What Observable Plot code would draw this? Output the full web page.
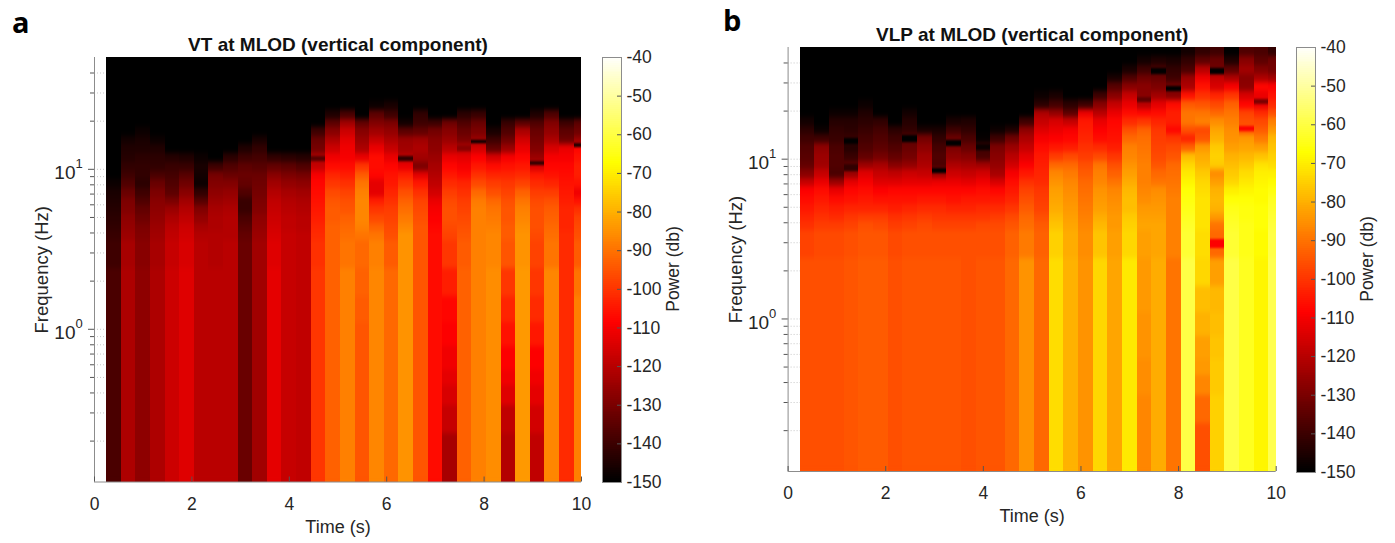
<!DOCTYPE html>
<html><head><meta charset="utf-8">
<script src="https://cdn.jsdelivr.net/npm/d3@7"></script>
<script src="https://cdn.jsdelivr.net/npm/@observablehq/plot@0.6"></script>
<style>
html,body{margin:0;padding:0;background:#fff;overflow:hidden}
#page{position:relative;width:1395px;height:543px;font-family:"Liberation Sans",sans-serif;color:#262626}
#page svg{position:absolute;background:transparent;overflow:visible}
.tag{position:absolute;font:700 29px "Open Sans",sans-serif;color:#000;line-height:1}
</style></head><body><div id="page"></div>
<script>
const timeEdges=[0.25,0.55,0.85,1.15,1.45,1.75,2.05,2.35,2.65,2.95,3.25,3.55,3.85,4.15,4.45,4.75,5.05,5.35,5.65,5.95,6.25,6.55,6.85,7.15,7.45,7.75,8.05,8.35,8.65,8.95,9.25,9.55,9.85,10];
const freqEdges=[0.111,0.222,0.333,0.444,0.556,0.778,1.1,1.6,2.4,3.6,4.1,4.6,5.2,5.9,6.7,7.6,8.6,9.7,11,12.5,14.2,16.1,18.2,20.6,23.4,26.5,30,34,38.5,43.7,50];
const floorDb=-150;
const L=v=>[v,v,v,v,v,v,v,v]; // the eight lowest rows read as one flat band

const vtColumns=[
[...L(-138),-140,-141,-142,-143,-144,-145,-146,-148],
[...L(-122),-123,-125,-126,-127,-129,-130,-133,-137,-140,-142,-144,-145,-147],
[...L(-127),-128,-129,-130,-132,-134,-137,-140,-143,-142,-142,-143,-145,-146,-148],
[...L(-122),-123,-124,-125,-126,-127,-128,-130,-133,-138,-142,-143,-145,-148],
[...L(-117),-118,-119,-120,-122,-125,-130,-135,-137,-139,-141,-144],
[...L(-114),-115,-116,-117,-119,-121,-124,-128,-132,-136,-141,-145],
[...L(-120),-120,-121,-123,-126,-129,-136,-142,-148,-147,-146,-148],
[...L(-120),-121,-121,-122,-122,-123,-125,-127,-129,-131,-140],
[...L(-120),-120,-121,-121,-121,-122,-124,-126,-129,-133,-137,-143],
[...L(-133),-133,-134,-136,-138,-141,-141,-137,-134,-133,-135,-140,-145],
[...L(-124),-124,-125,-126,-127,-129,-130,-131,-132,-133,-136,-139,-142,-146],
[...L(-113),-114,-115,-116,-117,-118,-119,-121,-124,-128,-134,-142],
[...L(-118),-118,-118,-119,-119,-120,-121,-123,-126,-130,-135,-143],
[...L(-119),-119,-119,-120,-120,-121,-122,-124,-127,-131,-137,-144],
[...L(-100),-101,-102,-103,-104,-105,-106,-107,-108,-110,-118,-122,-131,-133,-140],
[...L(-93),-93,-93,-93,-94,-94,-95,-97,-100,-103,-107,-111,-117,-122,-128,-135,-145],
[...L(-88),-90,-91,-92,-93,-95,-96,-98,-101,-104,-107,-110,-111,-113,-117,-124,-138],
[-95,-95,-95,-95,-95,-95,-94,-93,-92,-90,-88,-87,-87,-87,-88,-90,-94,-100,-112,-122,-125,-128,-134],
[...L(-87),-88,-90,-93,-97,-100,-104,-113,-113,-108,-107,-107,-112,-118,-124,-129,-135,-148],
[...L(-92),-94,-96,-97,-98,-99,-101,-103,-105,-106,-108,-112,-118,-122,-126,-130,-140,-146],
[...L(-85),-85,-85,-87,-89,-91,-93,-96,-100,-104,-112,-120,-124,-125,-135,-147],
[...L(-95),-95,-95,-95,-96,-97,-98,-101,-105,-113,-130,-124,-122,-124,-134,-140,-142],
[...L(-107),-107,-107,-108,-109,-110,-112,-116,-119,-121,-123,-125,-127,-128,-131,-140],
[-123,-118,-115,-113,-111,-109,-108,-104,-100,-98,-97,-96,-96,-97,-99,-102,-105,-108,-112,-120,-125,-128,-132],
[...L(-93),-94,-95,-96,-97,-98,-99,-101,-103,-107,-110,-113,-120,-130,-133,-137,-143],
[...L(-88),-88,-88,-88,-88,-88,-89,-92,-97,-101,-105,-109,-116,-125,-130,-133,-141],
[...L(-86),-87,-87,-88,-89,-90,-92,-96,-99,-103,-107,-115,-134,-140,-146],
[-121,-119,-114,-111,-109,-106,-103,-100,-95,-94,-94,-95,-95,-96,-98,-100,-103,-106,-110,-125,-132,-137,-141],
[...L(-84),-85,-85,-86,-87,-88,-90,-93,-98,-102,-105,-108,-112,-116,-122,-135],
[-119,-116,-113,-111,-109,-105,-102,-100,-98,-97,-96,-96,-96,-97,-99,-102,-105,-115,-125,-129,-131,-133,-137,-145],
[...L(-87),-90,-91,-92,-93,-94,-96,-99,-103,-106,-108,-110,-115,-122,-126,-129,-137],
[...L(-102),-102,-102,-103,-103,-103,-104,-105,-106,-107,-108,-110,-112,-132,-135,-140],
[-88,-88,-88,-88,-88,-88,-88,-90,-94,-96,-97,-98,-101,-106,-111,-106,-104,-104,-106,-108,-125,-132,-135]
];
const vtThinColumn=[14,20,24,25,29,32];
const vtThinLow=[11.2,11.2,13,14.4,10.6,13.6];
const vtThinHigh=[12,12,14,15.2,11.2,14.4];
const vtThinDb=[-136,-142,-128,-150,-142,-145];

const vlpColumns=[
[...L(-96),-98,-101,-103,-105,-107,-109,-118,-128,-134,-136,-137,-140,-143,-147],
[...L(-96),-97,-99,-101,-103,-105,-107,-112,-118,-124,-125,-127,-140,-148],
[...L(-96),-97,-99,-102,-104,-107,-112,-125,-138,-137,-137,-138,-141,-142,-144,-148],
[...L(-95),-96,-98,-100,-103,-106,-108,-113,-125,-135,-141,-144,-141,-143,-144,-148],
[...L(-94),-95,-96,-99,-103,-105,-107,-110,-114,-125,-134,-137,-139,-141,-143,-145,-148],
[...L(-94),-95,-97,-99,-103,-106,-109,-114,-118,-123,-131,-135,-137,-139,-142],
[...L(-96),-97,-99,-101,-104,-106,-108,-114,-119,-128,-134,-137,-140,-143],
[...L(-95),-96,-98,-100,-103,-106,-108,-113,-117,-126,-131,-133,-136,-142,-144,-147],
[...L(-95),-96,-97,-99,-102,-105,-108,-113,-118,-122,-124,-127,-131,-146],
[...L(-95),-96,-98,-100,-102,-105,-108,-112,-125,-138,-137,-139,-142,-146],
[...L(-95),-96,-98,-100,-103,-106,-108,-112,-117,-122,-127,-130,-133,-140,-146],
[...L(-96),-96,-98,-100,-103,-105,-108,-113,-118,-123,-128,-133,-138,-142,-145],
[...L(-95),-96,-97,-100,-102,-105,-107,-111,-116,-124,-138,-140,-149],
[...L(-95),-96,-97,-99,-102,-105,-108,-115,-123,-126,-128,-130,-140,-148],
[...L(-92),-93,-95,-97,-100,-103,-105,-107,-110,-116,-120,-125,-132,-145],
[...L(-85),-89,-91,-92,-94,-96,-98,-101,-105,-109,-113,-118,-122,-127,-140],
[...L(-92),-93,-94,-96,-98,-99,-100,-102,-103,-104,-105,-107,-110,-114,-118,-122,-143,-148],
[...L(-73),-75,-77,-79,-81,-82,-83,-85,-87,-92,-99,-105,-109,-112,-115,-126,-139,-146],
[...L(-80),-81,-82,-83,-84,-85,-86,-87,-89,-92,-97,-104,-108,-110,-118,-135,-143],
[...L(-85),-86,-87,-88,-89,-90,-91,-92,-94,-96,-99,-101,-103,-104,-105,-112,-140],
[...L(-74),-77,-79,-81,-83,-84,-85,-87,-88,-90,-97,-102,-107,-109,-112,-120,-128,-140],
[...L(-82),-83,-84,-84,-85,-86,-87,-90,-93,-96,-100,-104,-106,-107,-108,-112,-118,-128,-136,-146],
[...L(-71),-74,-75,-76,-78,-78,-79,-81,-83,-85,-87,-88,-92,-96,-102,-107,-112,-118,-128,-137,-146],
[-87,-87,-86,-86,-85,-85,-84,-84,-83,-82,-83,-84,-86,-87,-88,-88,-88,-89,-90,-91,-93,-100,-108,-120,-128,-128,-132,-140,-147],
[...L(-81),-82,-82,-83,-84,-85,-86,-90,-92,-95,-97,-98,-99,-100,-103,-107,-113,-124,-130,-133,-138,-145],
[...L(-90),-88,-88,-88,-88,-88,-89,-90,-91,-92,-95,-97,-100,-108,-104,-104,-107,-128,-132,-140,-142,-146],
[...L(-60),-62,-63,-64,-65,-66,-67,-69,-71,-74,-78,-93,-103,-96,-90,-90,-94,-106,-122,-125,-138,-142,-147],
[-96,-92,-87,-84,-83,-80,-78,-74,-73,-72,-72,-72,-72,-73,-74,-76,-79,-81,-84,-95,-97,-88,-90,-95,-101,-106,-111,-120,-135,-142],
[-75,-75,-76,-76,-77,-78,-79,-83,-92,-90,-84,-80,-79,-80,-83,-86,-76,-75,-76,-80,-82,-86,-92,-97,-103,-115,-118,-132,-133,-140],
[...L(-60),-62,-63,-64,-65,-67,-70,-74,-76,-78,-80,-83,-85,-86,-88,-90,-93,-100,-110,-122,-135,-145],
[...L(-64),-65,-65,-66,-66,-67,-69,-71,-73,-76,-79,-82,-84,-95,-96,-98,-108,-115,-127,-128,-124,-128,-137],
[...L(-69),-68,-67,-67,-67,-68,-68,-69,-70,-72,-77,-83,-89,-94,-97,-102,-112,-112,-108,-122,-129,-135,-138],
[...L(-59),-60,-61,-62,-63,-64,-66,-68,-70,-73,-75,-77,-79,-84,-88,-96,-102,-106,-109,-124,-131,-132,-142]
];
const vlpThinColumn=[3,3,7,9,10,12,23,24,25,28,28,30,31];
const vlpThinLow=[12.3,8.4,12.8,8.1,12,11.3,22.5,34,26.7,2.75,34,14.9,22];
const vlpThinHigh=[13.5,9.2,14,8.8,13.1,12.4,24.5,37,28.6,3.15,37,16,23.5];
const vlpThinDb=[-150,-142,-150,-150,-150,-148,-135,-150,-150,-109,-150,-109,-130];

const colorbarTicks=[-150,-140,-130,-120,-110,-100,-90,-80,-70,-60,-50,-40];
const colorbarLevels=d3.range(-150,-40,0.5);
const timeTicks=[0,2,4,6,8,10];
const decadeTicks=[1,10];
const decadeExponents=["0","1"];
const minorFreqTicks=[0.2,0.3,0.4,0.5,0.6,0.7,0.8,0.9,2,3,4,5,6,7,8,9,20,30,40];

const hot={type:"linear",domain:[-150,-108.75,-67.5,-40],range:["#000000","#ff0000","#ffff00","#ffffff"],interpolate:"rgb"};
const ink="#262626", axisGrey="#8c8c8c";
const font='"Liberation Sans",sans-serif';

function cellsOf(columns){
  const out=[];
  columns.forEach((col,c)=>{
    for(let r=0;r<freqEdges.length-1;r++){
      out.push({t1:timeEdges[c],t2:timeEdges[c+1],f1:freqEdges[r],f2:freqEdges[r+1],db:col[r]??floorDb});
    }
  });
  return out;
}
function thinOf(cols,lows,highs,dbs){
  return cols.map((c,i)=>({t1:timeEdges[c],t2:timeEdges[c+1],f1:lows[i],f2:highs[i],db:dbs[i]}));
}
function panel(o){
  const h=543-o.top-o.bottom;
  const cells=cellsOf(o.columns);
  const rectOpts={x1:"t1",x2:"t2",y1:"f1",y2:"f2",fill:"db",shapeRendering:"crispEdges"};
  const svg=Plot.plot({
    width:o.width,height:543,marginLeft:o.left,marginRight:o.right,marginTop:o.top,marginBottom:o.bottom,
    style:{fontFamily:font,background:"transparent",overflow:"visible"},
    x:{domain:[0,10],axis:null},
    y:{type:"log",domain:[0.111,50],axis:null},
    color:hot,
    marks:[
      Plot.gridY(minorFreqTicks.concat(decadeTicks),{stroke:"#999",strokeOpacity:0.55,strokeDasharray:"1,2"}),
      Plot.rect(cells,rectOpts),
      Plot.rect(cells,{...rectOpts,clip:true}),
      Plot.rect(o.thin,{...rectOpts,clip:true}),
      Plot.ruleX([0],{stroke:axisGrey,strokeWidth:1}),
      Plot.ruleY([0.111],{stroke:axisGrey,strokeWidth:1}),
      Plot.axisY({ticks:minorFreqTicks,tickSize:4,tickFormat:()=>"",stroke:"#555",label:null}),
      Plot.axisY({ticks:decadeTicks,tickSize:6,tickFormat:()=>"",stroke:"#555",label:null}),
      Plot.tickX(timeTicks,{x:d=>d,insetTop:h-5,stroke:"#555"}),
      Plot.text(timeTicks,{x:d=>d,frameAnchor:"bottom",dy:22,lineAnchor:"middle",text:d=>String(d),fontSize:17.5,fill:ink}),
      Plot.text(decadeTicks,{y:d=>d,frameAnchor:"left",textAnchor:"end",dx:-19,dy:4,text:()=>"10",fontSize:19,fill:ink}),
      Plot.text(decadeTicks,{y:d=>d,frameAnchor:"left",textAnchor:"start",dx:-19,dy:-5,text:(d,i)=>decadeExponents[i],fontSize:13,fill:ink}),
      Plot.text(["Time (s)"],{frameAnchor:"bottom",dy:45,lineAnchor:"middle",fontSize:18,fill:ink}),
      Plot.text(["Frequency (Hz)"],{frameAnchor:"left",textAnchor:"middle",dx:-52,rotate:-90,fontSize:18.5,fill:ink}),
      Plot.text([o.title],{frameAnchor:"top",dy:-13,lineAnchor:"middle",fontSize:19,fontWeight:"bold",fill:"#111"})
    ]
  });
  // the upper copies of the cells are softened along frequency, as the reference image is
  const id="soft"+o.title.slice(0,2);
  const defs=document.createElementNS("http://www.w3.org/2000/svg","defs");
  defs.innerHTML=`<filter id="${id}" color-interpolation-filters="sRGB"><feGaussianBlur stdDeviation="0.5 2.6"/></filter>`+
    `<filter id="${id}t" x="-10%" y="-100%" width="120%" height="300%" color-interpolation-filters="sRGB"><feGaussianBlur stdDeviation="0.5 0.9"/></filter>`;
  svg.prepend(defs);
  const groups=svg.querySelectorAll('g[aria-label="rect"]');
  const inner=g=>g.querySelector("g")||g;
  groups[1].querySelectorAll("rect").length;
  wrapFilter(groups[1],id);
  wrapFilter(groups[2],id+"t");
  return svg;
}
function wrapFilter(group,id){
  // keep the frame clip on the outer group and the blur on a group inside it
  const g=document.createElementNS("http://www.w3.org/2000/svg","g");
  g.setAttribute("filter",`url(#${id})`);
  while(group.firstChild) g.append(group.firstChild);
  group.append(g);
}
function colorbar(o){
  const s=Plot.plot({
    width:110,height:o.height+20,marginLeft:1,marginRight:90,marginTop:10,marginBottom:10,
    style:{fontFamily:font,background:"transparent",overflow:"visible"},
    x:{domain:[0,1],axis:null},
    y:{domain:[-150,-40],axis:null},
    color:hot,
    marks:[
      Plot.rect(colorbarLevels,{x1:0,x2:1,y1:d=>d,y2:d=>d+0.5,fill:d=>d,shapeRendering:"crispEdges"}),
      Plot.frame({stroke:axisGrey}),
      Plot.tickY(colorbarTicks.slice(1,-1),{y:d=>d,insetLeft:15,stroke:"#555"}),
      Plot.text(colorbarTicks,{y:d=>d,frameAnchor:"right",textAnchor:"start",dx:5,text:d=>String(d),fontSize:17.5,fill:ink}),
      Plot.text(["Power (db)"],{frameAnchor:"right",textAnchor:"middle",dx:52,dy:-1,rotate:-90,fontSize:17.5,fill:ink})
    ]
  });
  s.style.left=o.x-1+"px"; s.style.top=o.y-10+"px";
  return s;
}
const page=document.getElementById("page");
const a=panel({width:700,left:94,right:119,top:57,bottom:61.5,columns:vtColumns,thin:thinOf(vtThinColumn,vtThinLow,vtThinHigh,vtThinDb),title:"VT at MLOD (vertical component)"});
a.style.left="0px";a.style.top="0px";page.append(a);
const b=panel({width:695,left:87.6,right:119.3,top:47,bottom:72,columns:vlpColumns,thin:thinOf(vlpThinColumn,vlpThinLow,vlpThinHigh,vlpThinDb),title:"VLP at MLOD (vertical component)"});
b.style.left="700px";b.style.top="0px";page.append(b);
page.append(colorbar({x:602,y:56.5,height:425}));
page.append(colorbar({x:1296,y:46.5,height:425}));
for(const [t,x,y] of [["a",12,7],["b",723,5]]){
  const d=document.createElement("div");d.className="tag";d.textContent=t;d.style.left=x+"px";d.style.top=y+"px";page.append(d);
}
</script></body></html>
